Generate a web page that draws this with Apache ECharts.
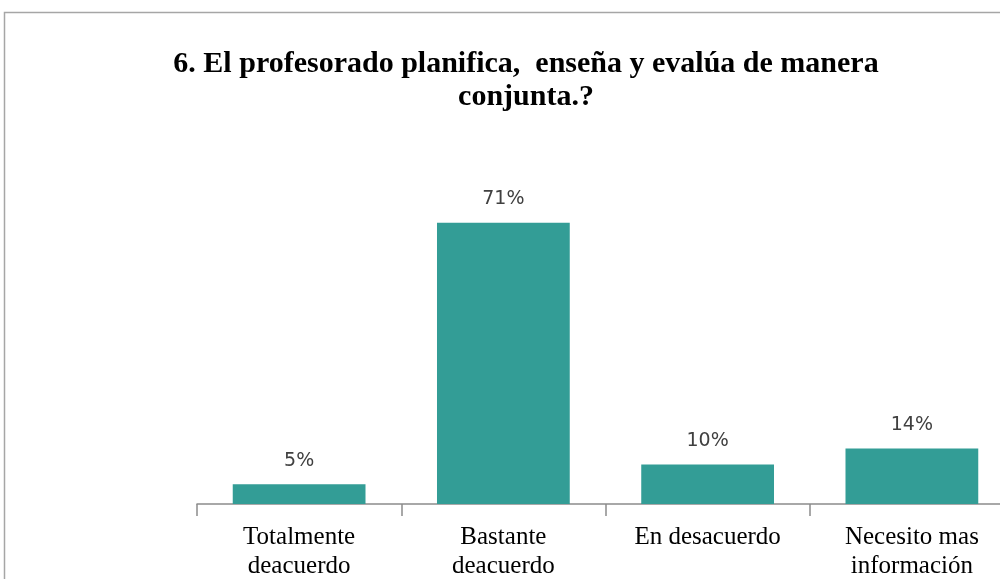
<!DOCTYPE html>
<html>
<head>
<meta charset="utf-8">
<script src="https://cdn.jsdelivr.net/npm/echarts@6/dist/echarts.min.js"></script>
<style>
	html, body { margin: 0; padding: 0; overflow: hidden; background: #fff; }
	#chart { width: 1020px; height: 600px; }
</style>
</head>
<body>
<div id="chart"></div>
<script>
	var categories = ['Totalmente\ndeacuerdo', 'Bastante\ndeacuerdo', 'En desacuerdo', 'Necesito mas\ninformación'];
	var values = [5, 71, 10, 14];

	var dom = document.getElementById('chart');
	var myChart = echarts.init(dom);

	var option = {
		animation: false,
		title: {
			text: '6. El profesorado planifica,  enseña y evalúa de manera\nconjunta.?',
			left: 521,
			textAlign: 'center',
			top: 43,
			textStyle: {
				fontFamily: 'Liberation Serif',
				fontWeight: 'bold',
				fontSize: 30,
				lineHeight: 33,
				color: '#000'
			}
		},
		graphic: [{
			type: 'rect',
			shape: { x: 4.5, y: 12.5, width: 1200, height: 800 },
			style: { fill: 'none', stroke: '#a6a6a6', lineWidth: 1.5 },
			silent: true
		}],
		grid: {
			left: 197,
			right: 6,
			top: 187,
			bottom: 96
		},
		xAxis: {
			type: 'category',
			data: categories,
			axisLine: {
				lineStyle: { color: '#8c8c8c', width: 1.5 }
			},
			axisTick: {
				show: true,
				length: 12,
				lineStyle: { color: '#8c8c8c', width: 1.5 }
			},
			axisLabel: {
				margin: 19,
				interval: 0,
				fontFamily: 'Liberation Serif',
				fontSize: 25,
				lineHeight: 29,
				color: '#000'
			}
		},
		yAxis: {
			type: 'value',
			min: 0,
			max: 80,
			show: false,
			splitLine: { show: false }
		},
		series: [{
			type: 'bar',
			data: values,
			barWidth: '65%',
			itemStyle: {
				color: '#339d96'
			},
			label: {
				show: true,
				position: 'top',
				distance: 14,
				formatter: '{c}%',
				fontFamily: 'DejaVu Sans',
				fontSize: 19,
				color: '#404040'
			}
		}]
	};

	myChart.setOption(option);
</script>
</body>
</html>
